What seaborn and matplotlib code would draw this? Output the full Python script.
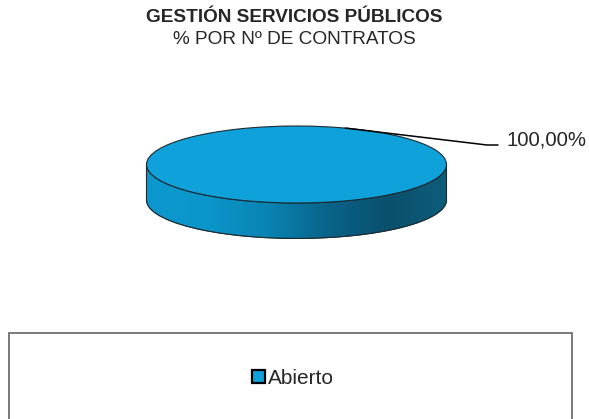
import matplotlib
matplotlib.use("Agg")
import matplotlib.pyplot as plt
import seaborn as sns
import numpy as np
from matplotlib.colors import LinearSegmentedColormap
from matplotlib.patches import Polygon, Rectangle, Patch

# datos
categorias = ["Abierto"]
valores = [100.0]
etiquetas = ["100,00%"]
colores = ["#0FA2DA"]

sns.set_style("white")
plt.rcParams["font.family"] = ["Liberation Sans", "DejaVu Sans"]

fig = plt.figure(figsize=(5.89, 4.19), dpi=100)
fig.patch.set_facecolor("white")

# ejes del pastel: 1 unidad x = 150 px, 1 unidad y = 38.5 px
W, H = 589.0, 419.0
cx, cy = 296.5, 164.5
sx, sy = 150.0, 38.5
xl, yl = (-1.3, 1.3), (-2.2, 1.3)
left = cx + xl[0] * sx
top = cy - yl[1] * sy
w = (xl[1] - xl[0]) * sx
h = (yl[1] - yl[0]) * sy
ax = fig.add_axes([left / W, 1 - (top + h) / H, w / W, h / H])

prof = 0.92  # grosor del disco

# cara inferior (base) para el borde
ax.pie(valores, colors=["#0A5675"], center=(0, -prof), radius=1, startangle=90,
       wedgeprops=dict(edgecolor="#1b2b33", linewidth=0.8))

# lateral con degradado
t = np.linspace(np.pi, 2 * np.pi, 200)
arriba = np.column_stack([np.cos(t), np.sin(t)])
abajo = np.column_stack([np.cos(t[::-1]), np.sin(t[::-1]) - prof])
lado = Polygon(np.vstack([arriba, abajo]), closed=True, facecolor="none",
               edgecolor="#1b2b33", linewidth=0.8, zorder=3)
ax.add_patch(lado)
cmap = LinearSegmentedColormap.from_list(
    "lado", ["#0C98CE", "#0B96CB", "#0A84B3", "#09648A", "#0A506C", "#0C5D7A"])
grad = np.linspace(0, 1, 256).reshape(1, -1)
img = ax.imshow(grad, cmap=cmap, extent=(-1, 1, -1 - prof, 0), aspect="auto",
                zorder=2)
img.set_clip_path(lado)

# cara superior
cunas, _ = ax.pie(valores, colors=colores, center=(0, 0), radius=1, startangle=90,
                  wedgeprops=dict(edgecolor="#1b2b33", linewidth=0.8))
for c in cunas:
    c.set_zorder(4)

ax.set_aspect("auto")
ax.set_xlim(*xl)
ax.set_ylim(*yl)
ax.axis("off")

# linea guia y etiqueta
ang = np.deg2rad(71)
p0 = (np.cos(ang), np.sin(ang))
p1 = ((487 - cx) / sx, (cy - 145) / sy)
p2 = ((498 - cx) / sx, (cy - 145) / sy)
ax.plot([p0[0], p1[0], p2[0]], [p0[1], p1[1], p2[1]], color="black", lw=1.1,
        zorder=5, clip_on=False)
ax.text((506 - cx) / sx, (cy - 140) / sy, etiquetas[0], fontsize=14.6,
        ha="left", va="center", clip_on=False)

# titulo
fig.text(0.5, 1 - 17 / H, "GESTIÓN SERVICIOS PÚBLICOS", ha="center", va="center",
         fontsize=13.7, fontweight="bold")
fig.text(0.5, 1 - 40 / H, "% POR Nº DE CONTRATOS", ha="center", va="center",
         fontsize=13.7)

# leyenda
fig.patches.append(Rectangle((9 / W, 1 - 425 / H), 563 / W, 92 / H,
                             transform=fig.transFigure, facecolor="white",
                             edgecolor="#6f6f6f", linewidth=1.3))
manijas = [Patch(facecolor=cunas[0].get_facecolor(), edgecolor="black", linewidth=1.6)]
fig.legend(manijas, categorias, loc="center", bbox_to_anchor=(293 / W, 1 - 378 / H),
           frameon=False, fontsize=15, handlelength=0.6, handleheight=0.6,
           handletextpad=0.15)

fig.savefig("out.png", dpi=100)
